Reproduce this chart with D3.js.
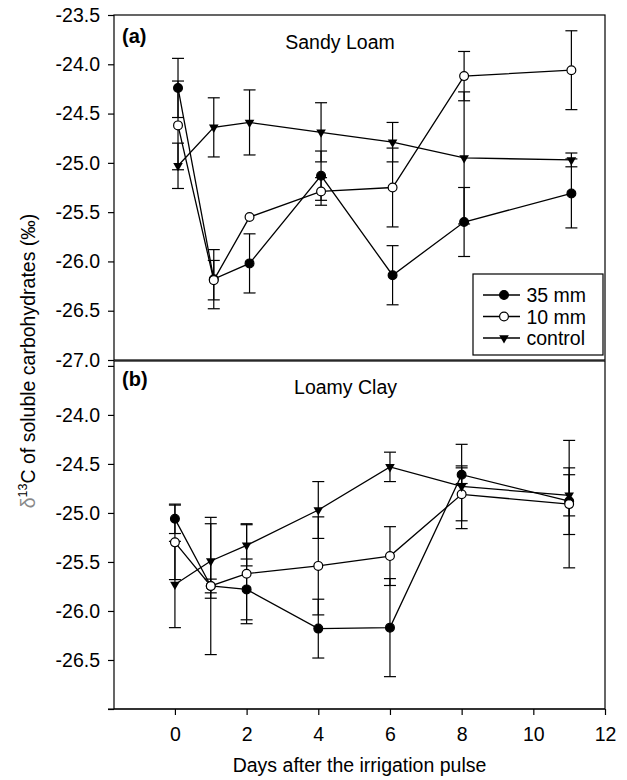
<!DOCTYPE html>
<html>
<head>
<meta charset="utf-8">
<script src="https://cdn.jsdelivr.net/npm/d3@7/dist/d3.min.js"></script>
<style>
  body { margin: 0; background: #fff; }
  svg { display: block; font-family: "Liberation Sans", Arial, sans-serif; }
  .axis path, .axis line { stroke: #000; stroke-width: 1.2; }
  .axis text { font-size: 19.5px; fill: #000; font-family: "Liberation Sans", Arial, sans-serif; }
</style>
</head>
<body>
<div id="container"></div>
<script>
// days after the irrigation pulse
var days = [0, 1, 2, 4, 6, 8, 11];
var seriesNames = ["35 mm", "10 mm", "control"];

// (a) Sandy Loam: means and error bars (0 = bar hidden by the symbol)
var sandy35 = [-24.24, -26.18, -26.02, -25.13, -26.14, -25.60, -25.31];
var sandy35Err = [0.30, 0.30, 0.30, 0.25, 0.30, 0.35, 0.35];
var sandy10 = [-24.62, -26.19, -25.55, -25.29, -25.25, -24.12, -24.06];
var sandy10Err = [0.45, 0.20, 0, 0.14, 0.40, 0.25, 0.40];
var sandyCtl = [-25.03, -24.64, -24.59, -24.69, -24.79, -24.95, -24.97];
var sandyCtlErr = [0.23, 0.30, 0.33, 0.30, 0.20, 0.67, 0.07];

// (b) Loamy Clay
var clay35 = [-25.06, -25.745, -25.78, -26.18, -26.17, -24.61, -24.88];
var clay35Err = [0.15, 0.07, 0.31, 0.30, 0.50, 0.09, 0.34];
var clay10 = [-25.30, -25.745, -25.62, -25.54, -25.44, -24.81, -24.91];
var clay10Err = [0.38, 0.70, 0.51, 0.50, 0.30, 0.27, 0.65];
var clayCtl = [-25.73, -25.49, -25.33, -24.97, -24.53, -24.73, -24.82];
var clayCtlErr = [0.44, 0.38, 0.21, 0.29, 0.15, 0.43, 0.21];

var yTicks = [-23.5, -24.0, -24.5, -25.0, -25.5, -26.0, -26.5, -27.0];
var xTicks = [0, 2, 4, 6, 8, 10, 12];

var width = 627, height = 780;
var left = 114, right = 605;

var svg = d3.select('#container').append('svg')
  .attr('width', width)
  .attr('height', height);

// build a series list for one panel
function makeSeries(vals) {
  return seriesNames.map(function(name, i) {
    return days.map(function(d, j) {
      return {day: d, v: vals[i][0][j], e: vals[i][1][j]};
    });
  });
}

var panels = [
  {label: "(a)", title: "Sandy Loam", top: 15, bottom: 360,
   yDomain: [-27, -23.5], xDomain: [-1.79, 11.94], titleDay: 4.53,
   labelY: 43, titleY: 49,
   series: makeSeries([[sandy35, sandy35Err], [sandy10, sandy10Err], [sandyCtl, sandyCtlErr]])},
  {label: "(b)", title: "Loamy Clay", top: 361, bottom: 709,
   yDomain: [-27, -23.45], xDomain: [-1.7, 12], titleDay: 4.76,
   labelY: 386, titleY: 394,
   series: makeSeries([[clay35, clay35Err], [clay10, clay10Err], [clayCtl, clayCtlErr]])}
];

var triangle = d3.symbol().type(d3.symbolTriangle).size(40);

function drawMarker(sel, k) {
  if (k === 2) {
    sel.append('path')
      .attr('d', triangle())
      .attr('transform', 'rotate(180)')
      .attr('fill', '#000');
  } else {
    sel.append('circle')
      .attr('r', 4.4)
      .attr('fill', k === 0 ? '#000' : '#fff')
      .attr('stroke', '#000')
      .attr('stroke-width', 1.2);
  }
}

panels.forEach(function(p, pi) {
  var x = d3.scaleLinear().domain(p.xDomain).range([left, right]);
  var y = d3.scaleLinear().domain(p.yDomain).range([p.bottom, p.top]);
  var g = svg.append('g');

  // y axis
  var yAxis = d3.axisLeft(y)
    .tickValues(yTicks.filter(function(t) { return t >= p.yDomain[0] && t <= p.yDomain[1]; }))
    .tickSize(6).tickPadding(8)
    .tickFormat(function(d) {
      if (pi === 1 && (d === -23.5 || d === -27)) return '';
      return d.toFixed(1);
    });
  g.append('g').attr('class', 'axis')
    .attr('transform', 'translate(' + left + ',0)')
    .call(yAxis)
    .call(function(a) { a.select('.domain').remove(); });

  // frame
  g.append('rect')
    .attr('x', left).attr('y', p.top)
    .attr('width', right - left).attr('height', p.bottom - p.top)
    .attr('fill', 'none').attr('stroke', '#000').attr('stroke-width', 1.2);

  if (pi === 1) {
    var xAxis = d3.axisBottom(x).tickValues(xTicks).tickSize(6).tickPadding(12)
      .tickFormat(d3.format('d'));
    g.append('g').attr('class', 'axis')
      .attr('transform', 'translate(0,' + p.bottom + ')')
      .call(xAxis)
      .call(function(a) { a.select('.domain').attr('d', 'M' + (left - 6) + ',0H' + right); });
  }

  g.append('text')
    .attr('x', 122).attr('y', p.labelY)
    .attr('font-size', 20).attr('font-weight', 'bold')
    .text(p.label);
  g.append('text')
    .attr('x', x(p.titleDay)).attr('y', p.titleY)
    .attr('text-anchor', 'middle')
    .attr('font-size', 19.5)
    .text(p.title);

  // error bars
  p.series.forEach(function(s) {
    var eb = g.append('g').selectAll('g')
      .data(s.filter(function(d) { return d.e > 0; }))
      .enter().append('g')
      .attr('stroke', '#000').attr('stroke-width', 1.2);
    eb.append('line')
      .attr('x1', function(d) { return x(d.day); })
      .attr('x2', function(d) { return x(d.day); })
      .attr('y1', function(d) { return y(d.v + d.e); })
      .attr('y2', function(d) { return y(d.v - d.e); });
    [1, -1].forEach(function(sign) {
      eb.append('line')
        .attr('x1', function(d) { return x(d.day) - 6; })
        .attr('x2', function(d) { return x(d.day) + 6; })
        .attr('y1', function(d) { return y(d.v + sign * d.e); })
        .attr('y2', function(d) { return y(d.v + sign * d.e); });
    });
  });

  var line = d3.line()
    .x(function(d) { return x(d.day); })
    .y(function(d) { return y(d.v); });

  p.series.forEach(function(s) {
    g.append('path')
      .datum(s)
      .attr('d', line)
      .attr('fill', 'none')
      .attr('stroke', '#000')
      .attr('stroke-width', 1.3);
  });

  p.series.forEach(function(s, k) {
    var m = g.append('g').selectAll('g').data(s).enter().append('g')
      .attr('transform', function(d) { return 'translate(' + x(d.day) + ',' + y(d.v) + ')'; });
    drawMarker(m, k);
  });

  // legend in the top panel
  if (pi === 0) {
    var lg = g.append('g').attr('transform', 'translate(473,274)');
    lg.append('rect')
      .attr('width', 130).attr('height', 81)
      .attr('fill', '#fff').attr('stroke', '#000').attr('stroke-width', 1.2);
    seriesNames.forEach(function(name, k) {
      var row = lg.append('g').attr('transform', 'translate(0,' + (21 + k * 21.5) + ')');
      row.append('line').attr('x1', 10).attr('x2', 47)
        .attr('stroke', '#000').attr('stroke-width', 1.3);
      var mk = row.append('g').attr('transform', 'translate(31,0)');
      drawMarker(mk, k);
      row.append('text').attr('x', 53.5).attr('y', 7)
        .attr('font-size', 19.5).text(name);
    });
  }
});

// axis titles
svg.append('text')
  .attr('x', (left + right) / 2).attr('y', 772)
  .attr('text-anchor', 'middle')
  .attr('font-size', 19.5)
  .text('Days after the irrigation pulse');

var yl = svg.append('text')
  .attr('transform', 'translate(35,361) rotate(-90)')
  .attr('text-anchor', 'middle')
  .attr('font-size', 19.5);
yl.append('tspan').attr('fill', '#888').text('\u03B4');
yl.append('tspan').attr('font-size', 12.5).attr('dy', -8).text('13');
yl.append('tspan').attr('dy', 8).text('C of soluble carbohydrates (\u2030)');
</script>
</body>
</html>
